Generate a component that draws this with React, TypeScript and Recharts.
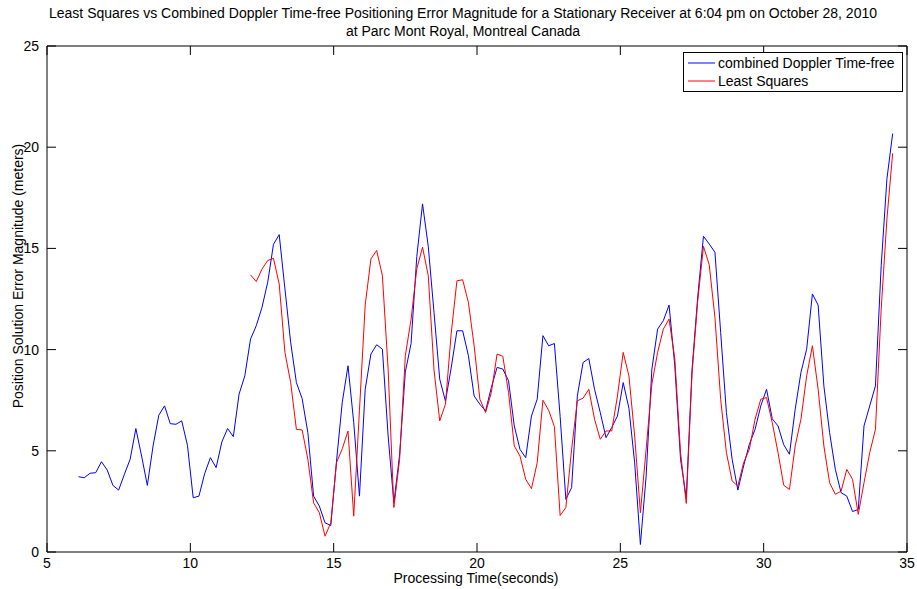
import React from "react";
import { LineChart, Line, XAxis, YAxis, ReferenceLine } from "recharts";

// sampling grid of the receiver log (seconds)
const startTime = 6.1;
const sampleStep = 0.2;
const lsStartTime = 12.1;

const xTicks = [5, 10, 15, 20, 25, 30, 35];
const yTicks = [0, 5, 10, 15, 20, 25];

// combined Doppler time-free error magnitude (m), from 6.1 s
const dopplerError = [
  3.72, 3.67, 3.89, 3.92, 4.46, 4.05, 3.29, 3.06, 3.84, 4.58,
  6.1, 4.74, 3.29, 5.24, 6.76, 7.22, 6.34, 6.31, 6.48, 5.27,
  2.68, 2.76, 3.87, 4.66, 4.17, 5.44, 6.1, 5.7, 7.8, 8.7,
  10.52, 11.18, 12.09, 13.33, 15.2, 15.68, 13.0, 10.36, 8.37, 7.58,
  5.9, 2.76, 2.27, 1.44, 1.31, 4.5, 7.4, 9.2, 6.4, 2.76,
  8.04, 9.78, 10.24, 10.02, 5.73, 2.43, 4.8, 8.9, 10.3, 14.6,
  17.2, 15.1, 11.84, 8.54, 7.45, 9.1, 10.93, 10.93, 9.7, 7.71,
  7.3, 6.97, 8.13, 9.12, 9.04, 8.46, 6.23, 5.07, 4.66, 6.72,
  7.55, 10.69, 10.19, 10.3, 6.7, 2.6, 3.18, 7.71, 9.36, 9.56,
  8.04, 6.89, 5.65, 6.15, 6.72, 8.37, 7.1, 4.41, 0.37, 3.75,
  9.03, 11.01, 11.43, 12.2, 9.2, 4.58, 2.68, 9.0, 12.6, 15.6,
  15.22, 14.81, 10.85, 6.89, 4.58, 3.06, 4.25, 5.32, 6.06, 7.22,
  8.04, 6.58, 6.23, 5.3, 4.83, 7.05, 8.87, 10.02, 12.75, 12.2,
  8.21, 5.9, 4.08, 2.93, 2.76, 2.0, 2.1, 6.23, 7.22, 8.21,
  14.15, 18.44, 20.67,
];

// least squares error magnitude (m), from 12.1 s
const leastSquaresError = [
  13.69, 13.36, 13.98, 14.4, 14.51, 13.24, 9.86, 8.37, 6.06, 6.03,
  4.58, 2.43, 1.94, 0.78, 1.45, 4.42, 5.1, 5.98, 1.77, 7.0,
  12.2, 14.48, 14.9, 13.65, 9.03, 2.2, 4.58, 9.7, 11.5, 13.99,
  15.06, 13.65, 9.0, 6.48, 7.3, 10.8, 13.4, 13.45, 12.33, 10.19,
  7.55, 6.89, 7.88, 9.78, 9.67, 7.88, 5.24, 4.74, 3.59, 3.13,
  4.41, 7.5, 7.0, 6.2, 1.8, 2.2, 5.07, 7.47, 7.6, 8.04,
  6.56, 5.57, 5.98, 5.98, 7.71, 9.86, 8.7, 5.73, 1.94, 5.07,
  8.3, 9.86, 11.01, 11.51, 9.55, 4.91, 2.4, 8.8, 12.4, 15.1,
  14.2, 11.6, 7.55, 4.91, 3.51, 3.26, 4.41, 5.07, 6.56, 7.55,
  7.63, 6.39, 4.91, 3.3, 3.09, 5.24, 6.56, 8.7, 10.19, 8.04,
  5.24, 3.42, 2.85, 3.0, 4.08, 3.59, 1.86, 3.42, 4.91, 6.06,
  12.0, 16.46, 19.7,
];

const series = [
  { key: "doppler", name: "combined Doppler Time-free", color: "#0000ff" },
  { key: "ls", name: "Least Squares", color: "#ff0000" },
];

const lsOffset = Math.round((lsStartTime - startTime) / sampleStep);

const data = dopplerError.map((v, i) => ({
  t: Math.round((startTime + i * sampleStep) * 10) / 10,
  doppler: v,
  ls: i >= lsOffset ? leastSquaresError[i - lsOffset] : null,
}));

const W = 917;
const H = 589;
const margin = { top: 46, right: 10, bottom: 7, left: 7 };
const xAxisHeight = 30;
const yAxisWidth = 40;
const plotW = W - margin.left - margin.right - yAxisWidth;
const plotH = H - margin.top - margin.bottom - xAxisHeight;
const tickLen = 9;

const font = '"Liberation Sans", Arial, sans-serif';

// matlab style: ticks point inward, mirrored on the opposite side of the box
const BottomTick = ({ x, y, payload }: any) => {
  const axisY = y - 4;
  return (
    <g>
      <line x1={x} x2={x} y1={axisY} y2={axisY - tickLen} stroke="#000" strokeWidth={1} />
      <line x1={x} x2={x} y1={axisY - plotH} y2={axisY - plotH + tickLen} stroke="#000" strokeWidth={1} />
      <text x={x} y={axisY + 16} textAnchor="middle" fill="#000" fontSize={14} fontFamily={font}>
        {payload.value}
      </text>
    </g>
  );
};

const LeftTick = ({ x, y, payload }: any) => {
  const axisX = x + 8;
  return (
    <g>
      <line x1={axisX} x2={axisX + tickLen} y1={y} y2={y} stroke="#000" strokeWidth={1} />
      <line x1={axisX + plotW} x2={axisX + plotW - tickLen} y1={y} y2={y} stroke="#000" strokeWidth={1} />
      <text x={x} y={y + 5} textAnchor="end" fill="#000" fontSize={14} fontFamily={font}>
        {payload.value}
      </text>
    </g>
  );
};

export default function App() {
  return (
    <div style={{ position: "absolute", left: 0, top: 0, width: W, height: H, fontFamily: font, color: "#000" }}>
      <LineChart width={W} height={H} data={data} margin={margin}>
        <XAxis
          dataKey="t"
          type="number"
          domain={[5, 35]}
          ticks={xTicks}
          height={xAxisHeight}
          tickSize={0}
          tickMargin={4}
          stroke="#000"
          tick={<BottomTick />}
        />
        <YAxis
          type="number"
          domain={[0, 25]}
          ticks={yTicks}
          width={yAxisWidth}
          tickSize={0}
          tickMargin={8}
          stroke="#000"
          tick={<LeftTick />}
        />
        <ReferenceLine y={25} stroke="#000" strokeWidth={1} />
        <ReferenceLine x={35} stroke="#000" strokeWidth={1} />
        {series.map((s) => (
          <Line
            key={s.key}
            type="linear"
            dataKey={s.key}
            name={s.name}
            stroke={s.color}
            strokeWidth={1}
            dot={false}
            isAnimationActive={false}
          />
        ))}
      </LineChart>
      <div
        style={{
          position: "absolute",
          top: 4,
          left: 33,
          width: 860,
          textAlign: "center",
          fontSize: 14,
          lineHeight: "18px",
          whiteSpace: "nowrap",
        }}
      >
        Least Squares vs Combined Doppler Time-free Positioning Error Magnitude for a Stationary Receiver at 6:04 pm on October 28, 2010
        <br />
        at Parc Mont Royal, Montreal Canada
      </div>
      <div
        style={{
          position: "absolute",
          top: 52,
          left: 683,
          width: 218,
          padding: "1px 0",
          border: "1px solid #000",
          background: "#fff",
          fontSize: 14,
        }}
      >
        {series.map((s) => (
          <div key={s.key} style={{ display: "flex", alignItems: "center", height: 18 }}>
            <svg width={34} height={18} style={{ flex: "none" }}>
              <line x1={4} x2={31} y1={9} y2={9} stroke={s.color} strokeWidth={1} />
            </svg>
            <span>{s.name}</span>
          </div>
        ))}
      </div>
      <div
        style={{
          position: "absolute",
          top: 569,
          left: 46,
          width: 860,
          textAlign: "center",
          fontSize: 14,
          lineHeight: "18px",
        }}
      >
        Processing Time(seconds)
      </div>
      <div style={{ position: "absolute", left: 18, top: 276, width: 0, height: 0 }}>
        <div
          style={{
            position: "absolute",
            transform: "translate(-50%, -50%) rotate(-90deg)",
            whiteSpace: "nowrap",
            fontSize: 14,
            lineHeight: "18px",
          }}
        >
          Position Solution Error Magnitude (meters)
        </div>
      </div>
    </div>
  );
}
